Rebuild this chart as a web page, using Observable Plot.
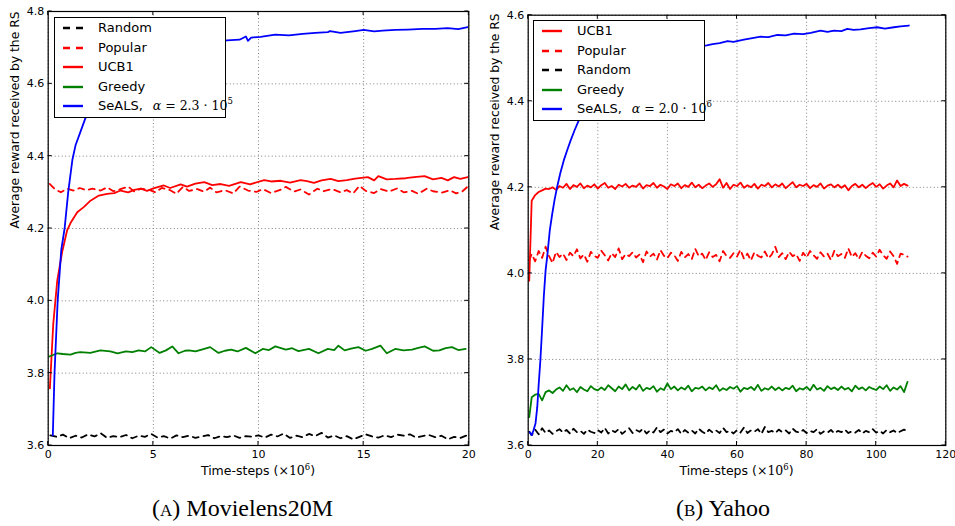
<!DOCTYPE html>
<html><head><meta charset="utf-8">
<script src="https://cdn.jsdelivr.net/npm/d3@7"></script>
<script src="https://cdn.jsdelivr.net/npm/@observablehq/plot@0.6"></script>
<style>
body{margin:0;background:#fff;}
#wrap{position:relative;width:955px;height:526px;overflow:hidden;font-family:"DejaVu Sans";background:#fff;}
.panel{position:absolute;top:0;}
.legend{position:absolute;background:#fff;border:1px solid #000;box-sizing:border-box;width:172px;height:101px;}
.row{position:absolute;left:0;height:18px;line-height:18px;font-size:13px;white-space:nowrap;color:#000;}
.row svg{position:absolute;left:8px;top:0;}
.row span.t{position:absolute;left:43px;top:0;}
.math{font-family:"DejaVu Serif";font-size:12.5px;}
.math i{font-family:"DejaVu Serif";}
.math sup{font-size:8.5px;vertical-align:0;position:relative;top:-6px;}
.xlab{position:absolute;width:400px;text-align:center;font-size:12.5px;line-height:14px;color:#000;}
.xlab .m{font-family:"DejaVu Serif";}
.xlab sup{font-size:8.5px;vertical-align:0;position:relative;top:-5px;}
.cap{position:absolute;text-align:center;font-family:"Liberation Serif";font-size:24px;line-height:24px;color:#000;}
</style></head>
<body><div id="wrap"></div>
<script>
// ---------------- Data: Movielens20M (left) ----------------
const mlXTicks = [0, 5, 10, 15, 20];
const mlYTicks = [3.6, 3.8, 4.0, 4.2, 4.4, 4.6, 4.8];

const mlSealsT = [0.22,0.30,0.45,0.62,0.78, 0.95,1.15,1.30,1.55,1.80, 2.2,3,4,5,6, 7,8,8.5,9.1,9.4, 9.5,9.65,10.1,10.8,11.45, 12.1,12.7,13.3,13.4,13.9, 14.6,15.0,15.5,15.9,16.5, 17.1,17.8,18.4,19.0,19.5, 19.95];
const mlSealsV = [3.628,3.80,4.00,4.14,4.20, 4.30,4.39,4.43,4.47,4.51, 4.56,4.63,4.67,4.69,4.70, 4.71,4.715,4.72,4.722,4.731, 4.719,4.728,4.730,4.736,4.734, 4.738,4.741,4.743,4.746,4.741, 4.746,4.749,4.745,4.747,4.749, 4.750,4.752,4.752,4.754,4.751, 4.757];

const mlUcbT = [0.08,0.24,0.43,0.66,0.90, 1.06,1.38,1.69,2.01,2.41, 2.8,3.14,3.44,3.8,4.1, 4.4,4.7,5.0,5.5,5.8, 6.3,6.6,7.0,7.42,7.8, 8.2,8.6,9.16,9.6,10.27, 10.6,11.06,11.5,12.0,12.3, 12.64,13.0,13.43,13.8,14.2, 14.6,15.2,15.5,15.7,16.1, 16.5,17.0,17.4,17.9,18.3, 18.7,19.0,19.3,19.6,19.95];
const mlUcbV = [3.758,3.936,4.056,4.134,4.195, 4.215,4.245,4.259,4.277,4.291, 4.296,4.298,4.305,4.300,4.307, 4.310,4.304,4.311,4.319,4.312, 4.322,4.316,4.324,4.328,4.320, 4.323,4.318,4.328,4.322,4.334, 4.330,4.332,4.327,4.334,4.331, 4.326,4.333,4.337,4.331,4.334, 4.338,4.342,4.333,4.345,4.336, 4.337,4.339,4.342,4.345,4.336, 4.340,4.333,4.342,4.337,4.342];

const mlPopT = [0.08,0.3,0.6,0.9,1.2, 1.5,1.8,2.1,2.5,2.8, 3.1,3.4,3.8,4.1,4.4, 4.8,5.1,5.4,5.8,6.1, 6.4,6.7,7.1,7.4,7.7, 8.0,8.4,8.8,9.1,9.5, 9.9,10.2,10.6,11.0,11.3, 11.7,12.0,12.4,12.8,13.1, 13.5,13.9,14.2,14.5,14.8, 15.1,15.5,15.8,16.2,16.6, 16.9,17.3,17.6,18.0,18.3, 18.7,19.1,19.4,19.7,19.95];
const mlPopV = [4.323,4.310,4.300,4.310,4.305, 4.312,4.306,4.310,4.305,4.314, 4.303,4.308,4.316,4.302,4.310, 4.307,4.300,4.312,4.306,4.296, 4.315,4.304,4.309,4.302,4.313, 4.300,4.306,4.297,4.316,4.305, 4.301,4.309,4.298,4.306,4.315, 4.302,4.308,4.294,4.310,4.303, 4.309,4.300,4.306,4.297,4.318, 4.304,4.298,4.309,4.302,4.311, 4.300,4.304,4.296,4.310,4.303, 4.299,4.306,4.297,4.303,4.316];

const mlGreedyT = [0.05,0.44,0.7,1.06,1.3, 1.53,2.0,2.48,2.95,3.3, 3.7,4.0,4.3,4.6,4.9, 5.3,5.6,5.9,6.2,6.5, 6.7,7.0,7.3,7.7,8.1, 8.4,8.7,9.0,9.4,9.85, 10.2,10.5,10.8,11.3,11.6, 11.9,12.4,12.85,13.3,13.6, 13.8,14.1,14.4,14.75,15.1, 15.4,15.8,16.1,16.5,16.9, 17.3,17.6,17.9,18.3,18.6, 18.9,19.2,19.5,19.85];
const mlGreedyV = [3.846,3.855,3.853,3.851,3.856, 3.858,3.856,3.863,3.860,3.855, 3.860,3.858,3.863,3.860,3.872, 3.856,3.863,3.874,3.855,3.862, 3.863,3.860,3.865,3.872,3.856, 3.862,3.865,3.860,3.870,3.855, 3.867,3.864,3.874,3.865,3.869, 3.861,3.867,3.855,3.867,3.864, 3.876,3.863,3.868,3.872,3.862, 3.867,3.876,3.855,3.867,3.863, 3.865,3.870,3.874,3.862,3.863, 3.869,3.872,3.864,3.867];

const mlRandT = [0.1,0.4,0.7,1.0,1.3, 1.6,1.9,2.2,2.5,2.8, 3.1,3.4,3.7,4.0,4.3, 4.6,4.9,5.2,5.5,5.8, 6.1,6.4,6.7,7.0,7.3, 7.6,7.9,8.2,8.5,8.8, 9.1,9.4,9.7,10.0,10.3, 10.6,10.9,11.2,11.5,11.8, 12.1,12.4,12.7,13.0,13.3, 13.6,13.9,14.2,14.5,14.8, 15.1,15.4,15.7,16.0,16.3, 16.6,16.9,17.2,17.5,17.8, 18.1,18.4,18.7,19.0,19.3, 19.6,19.95];
const mlRandV = [3.628,3.624,3.630,3.620,3.627, 3.622,3.631,3.625,3.634,3.621, 3.626,3.623,3.629,3.620,3.627, 3.624,3.632,3.622,3.626,3.619, 3.628,3.623,3.627,3.621,3.625, 3.629,3.620,3.626,3.623,3.628, 3.621,3.626,3.624,3.628,3.622, 3.630,3.625,3.633,3.621,3.627, 3.623,3.632,3.626,3.635,3.622, 3.628,3.620,3.626,3.617,3.624, 3.631,3.625,3.622,3.628,3.623, 3.630,3.627,3.631,3.622,3.626, 3.629,3.623,3.627,3.617,3.624, 3.621,3.629];

// ---------------- Data: Yahoo (right) ----------------
const yhXTicks = [0, 20, 40, 60, 80, 100, 120];
const yhYTicks = [3.6, 3.8, 4.0, 4.2, 4.4, 4.6];

const yhT = [0.3,1,2,3,4,5,6,7,8,9,
 10,11,12,13,14,15,16,17,18,19,
 20,21,22,23,24,25,26,27,28,29,
 30,31,32,33,34,35,36,37,38,39,
 40,41,42,43,44,45,46,47,48,49,
 50,51,52,53,54,55,56,57,58,59,
 60,61,62,63,64,65,66,67,68,69,
 70,71,72,73,74,75,76,77,78,79,
 80,81,82,83,84,85,86,87,88,89,
 90,91,92,93,94,95,96,97,98,99,
 100,101,102,103,104,105,106,107,108,109];

const yhUcbV = [3.983,4.169,4.182,4.189,4.193,4.197,4.196,4.200,4.194,4.203,
 4.199,4.208,4.196,4.205,4.201,4.209,4.198,4.204,4.200,4.207,
 4.197,4.205,4.210,4.199,4.203,4.196,4.206,4.202,4.208,4.199,
 4.204,4.201,4.209,4.197,4.205,4.203,4.210,4.199,4.206,4.202,
 4.196,4.207,4.203,4.209,4.198,4.205,4.201,4.211,4.200,4.206,
 4.198,4.204,4.209,4.201,4.207,4.219,4.199,4.210,4.196,4.206,
 4.203,4.211,4.199,4.205,4.200,4.208,4.197,4.206,4.203,4.210,
 4.200,4.207,4.202,4.209,4.198,4.205,4.212,4.200,4.206,4.203,
 4.208,4.198,4.205,4.201,4.209,4.197,4.204,4.207,4.200,4.206,
 4.199,4.205,4.193,4.203,4.208,4.200,4.206,4.198,4.205,4.210,
 4.201,4.207,4.197,4.204,4.209,4.200,4.216,4.203,4.208,4.204];

const yhPopV = [4.030,4.045,4.028,4.052,4.036,4.062,4.040,4.024,4.050,4.038,
 4.046,4.031,4.048,4.040,4.056,4.035,4.044,4.027,4.050,4.041,
 4.036,4.053,4.042,4.030,4.047,4.038,4.058,4.033,4.045,4.040,
 4.049,4.037,4.044,4.026,4.051,4.039,4.046,4.032,4.054,4.041,
 4.035,4.048,4.042,4.029,4.050,4.037,4.045,4.033,4.057,4.040,
 4.046,4.031,4.049,4.038,4.043,4.028,4.052,4.040,4.036,4.047,
 4.039,4.055,4.034,4.046,4.030,4.049,4.041,4.037,4.051,4.035,
 4.044,4.062,4.038,4.047,4.033,4.050,4.040,4.045,4.029,4.048,
 4.037,4.052,4.042,4.034,4.049,4.039,4.046,4.031,4.053,4.040,
 4.045,4.036,4.058,4.038,4.047,4.033,4.050,4.041,4.035,4.048,
 4.039,4.055,4.042,4.034,4.051,4.040,4.022,4.046,4.043,4.039];

const yhGreedyV = [3.666,3.712,3.718,3.720,3.705,3.724,3.728,3.722,3.730,3.735,
 3.727,3.740,3.729,3.733,3.724,3.736,3.730,3.726,3.738,3.731,
 3.728,3.735,3.729,3.740,3.733,3.726,3.737,3.731,3.742,3.728,
 3.736,3.730,3.741,3.727,3.734,3.731,3.738,3.725,3.733,3.729,
 3.744,3.731,3.737,3.728,3.735,3.730,3.739,3.726,3.734,3.732,
 3.737,3.728,3.735,3.731,3.740,3.727,3.733,3.729,3.736,3.732,
 3.738,3.725,3.734,3.731,3.736,3.729,3.741,3.727,3.733,3.730,
 3.737,3.729,3.735,3.728,3.734,3.731,3.739,3.726,3.733,3.730,
 3.736,3.728,3.741,3.730,3.734,3.727,3.738,3.731,3.735,3.729,
 3.737,3.730,3.734,3.726,3.739,3.731,3.735,3.728,3.736,3.732,
 3.729,3.737,3.731,3.740,3.727,3.735,3.730,3.738,3.724,3.748];

const yhRandV = [3.632,3.624,3.637,3.626,3.640,3.629,3.635,3.627,3.633,3.638,
 3.630,3.636,3.628,3.639,3.631,3.634,3.627,3.637,3.632,3.629,
 3.636,3.630,3.641,3.628,3.635,3.631,3.638,3.627,3.634,3.640,
 3.629,3.636,3.632,3.639,3.628,3.635,3.630,3.642,3.631,3.637,
 3.628,3.634,3.631,3.638,3.627,3.636,3.630,3.635,3.628,3.639,
 3.632,3.627,3.637,3.630,3.635,3.629,3.641,3.631,3.634,3.628,
 3.636,3.630,3.642,3.629,3.635,3.632,3.638,3.627,3.643,3.631,
 3.634,3.629,3.637,3.631,3.635,3.628,3.639,3.632,3.630,3.636,
 3.629,3.634,3.631,3.638,3.627,3.633,3.630,3.636,3.628,3.634,
 3.631,3.637,3.629,3.633,3.630,3.636,3.628,3.634,3.631,3.638,
 3.630,3.634,3.628,3.636,3.631,3.635,3.629,3.633,3.637,3.632];

const yhSealsT = [0.46,1.0,1.5,2.1,2.6, 3.0,3.5,4.0,4.5,5.0, 5.5,6.2,6.9,7.6,8.3, 9.2,10.2,11.2,12.2,13.3, 14.5,16,18,20,23, 26,30,35,40,45, 49,51.3,53,55,57.3, 59,62,64,66.8,69, 71.6,74,76.4,79,81.2, 84,86,87.9,90,91.7, 93.5,95.5,98,100.3,102.5, 105.1,107,109.4];
const yhSealsV = [3.631,3.624,3.635,3.651,3.689, 3.740,3.798,3.871,3.948,4.007, 4.042,4.100,4.138,4.172,4.200, 4.232,4.262,4.286,4.309,4.332, 4.355,4.380,4.410,4.430,4.455, 4.475,4.490,4.505,4.515,4.522, 4.527,4.530,4.533,4.535,4.540, 4.538,4.543,4.546,4.550,4.549, 4.554,4.553,4.557,4.556,4.559, 4.564,4.561,4.564,4.563,4.568, 4.566,4.567,4.570,4.572,4.569, 4.572,4.574,4.576];

// ---------------- Text ----------------
const yLabel = "Average reward received by the RS";
const mlLegend = ["Random", "Popular", "UCB1", "Greedy", "SeALS,"];
const yhLegend = ["UCB1", "Popular", "Random", "Greedy", "SeALS,"];
const mlAlpha = ["2.3", "5"];
const yhAlpha = ["2.0", "6"];
const captions = ["Movielens20M", "Yahoo"];

// ---------------- Build ----------------
const zip = (T, V) => T.slice(0, Math.min(T.length, V.length)).map((t, i) => ({t, v: V[i]}));
const DASH = "6,5";
const styles = {
  Random: {stroke: "#000000", dash: DASH},
  Popular: {stroke: "#ff0000", dash: DASH},
  UCB1: {stroke: "#ff0000", dash: null},
  Greedy: {stroke: "#008000", dash: null},
  "SeALS,": {stroke: "#0000ff", dash: null}
};

function innerTicks(xTicks, yTicks, len) {
  return (index, scales, values, dim) => {
    const {x, y} = scales;
    const top = dim.marginTop, bottom = dim.height - dim.marginBottom;
    const left = dim.marginLeft, right = dim.width - dim.marginRight;
    const g = d3.create("svg:g").attr("stroke", "black").attr("stroke-width", 1);
    for (const t of xTicks) {
      const px = x(t);
      g.append("line").attr("x1", px).attr("x2", px).attr("y1", bottom).attr("y2", bottom - len);
      g.append("line").attr("x1", px).attr("x2", px).attr("y1", top).attr("y2", top + len);
    }
    for (const t of yTicks) {
      const py = y(t);
      g.append("line").attr("y1", py).attr("y2", py).attr("x1", left).attr("x2", left + len);
      g.append("line").attr("y1", py).attr("y2", py).attr("x1", right).attr("x2", right - len);
    }
    return g.node();
  };
}

function panel({series, xTicks, yTicks, xDomain, yDomain, width, mTop, mRight}) {
  const marks = [
    Plot.gridX(xTicks, {stroke: "#808080", strokeOpacity: 1, strokeDasharray: "1,2.5"}),
    Plot.gridY(yTicks, {stroke: "#808080", strokeOpacity: 1, strokeDasharray: "1,2.5"}),
  ];
  for (const s of series) {
    marks.push(Plot.line(s.data, {x: "t", y: "v", stroke: s.stroke, strokeWidth: 1.8,
      strokeDasharray: s.dash || undefined, clip: true}));
  }
  marks.push(
    Plot.frame({stroke: "black", strokeWidth: 1.2}),
    innerTicks(xTicks, yTicks, 4),
    Plot.axisX(xTicks, {tickSize: 0, tickPadding: 5, tickFormat: d3.format("d"), label: null, fontSize: 11}),
    Plot.axisY(yTicks, {tickSize: 0, tickPadding: 4, tickFormat: d3.format(".1f"), label: null, fontSize: 11}),
    Plot.text([yLabel], {text: d => d, frameAnchor: "left", dx: -32.7, rotate: -90, fontSize: 12.3, fill: "black"})
  );
  return Plot.plot({
    width, height: 480,
    marginLeft: 47.7, marginRight: mRight, marginTop: mTop, marginBottom: 35,
    x: {domain: xDomain}, y: {domain: yDomain},
    style: {fontFamily: "DejaVu Sans", fontSize: "11px", background: "transparent", color: "black"},
    marks
  });
}

const wrap = d3.select("#wrap");

const mlSeries = [
  {name: "Random", data: zip(mlRandT, mlRandV)},
  {name: "Popular", data: zip(mlPopT, mlPopV)},
  {name: "UCB1", data: zip(mlUcbT, mlUcbV)},
  {name: "Greedy", data: zip(mlGreedyT, mlGreedyV)},
  {name: "SeALS,", data: zip(mlSealsT, mlSealsV)}
].map(s => ({...s, ...styles[s.name]}));

const yhSeries = [
  {name: "UCB1", data: zip(yhT, yhUcbV)},
  {name: "Popular", data: zip(yhT, yhPopV)},
  {name: "Random", data: zip(yhT, yhRandV)},
  {name: "Greedy", data: zip(yhT, yhGreedyV)},
  {name: "SeALS,", data: zip(yhSealsT, yhSealsV)}
].map(s => ({...s, ...styles[s.name]}));

const left = panel({series: mlSeries, xTicks: mlXTicks, yTicks: mlYTicks, xDomain: [0, 20], yDomain: [3.6, 4.8], width: 480, mTop: 11, mRight: 11.7});
const right = panel({series: yhSeries, xTicks: yhXTicks, yTicks: yhYTicks, xDomain: [0, 120], yDomain: [3.6, 4.6], width: 475, mTop: 14.7, mRight: 9.7});

wrap.append("div").attr("class", "panel").style("left", "0px").node().appendChild(left);
wrap.append("div").attr("class", "panel").style("left", "480px").node().appendChild(right);

function legend(x, y, names, alpha) {
  const box = wrap.append("div").attr("class", "legend").style("left", x + "px").style("top", y + "px");
  const rowCenters = [11, 30.5, 50, 69.5, 89];
  names.forEach((n, i) => {
    const st = styles[n];
    const row = box.append("div").attr("class", "row").style("top", (rowCenters[i] - 9 - 1) + "px").style("width", "170px");
    const svg = row.append("svg").attr("width", 22).attr("height", 18);
    svg.append("line").attr("x1", 0).attr("x2", 20).attr("y1", 9).attr("y2", 9)
      .attr("stroke", st.stroke).attr("stroke-width", 2.4)
      .attr("stroke-dasharray", st.dash ? "7,6" : null);
    const t = row.append("span").attr("class", "t").text(n);
    if (n === "SeALS,") {
      const m = t.append("span").attr("class", "math").style("margin-left", "10px");
      m.append("i").text("α");
      m.append("span").text(" = " + alpha[0] + " · 10");
      m.append("sup").text(alpha[1]);
    }
  });
}
legend(54, 17, mlLegend, mlAlpha);
legend(533, 20, yhLegend, yhAlpha);

function xlab(cx) {
  const d = wrap.append("div").attr("class", "xlab").style("left", (cx - 200) + "px").style("top", "464px");
  d.append("span").text("Time-steps (");
  const m = d.append("span").attr("class", "m");
  m.append("span").text("×10");
  m.append("sup").text("6");
  d.append("span").text(")");
}
xlab(258);
xlab(736.5);

function caption(x, w, letter, text) {
  const d = wrap.append("div").attr("class", "cap").style("left", x + "px").style("width", w + "px").style("top", "496px");
  d.append("span").text("(");
  d.append("span").style("font-variant", "all-small-caps").text(letter);
  d.append("span").text(") " + text);
}
caption(0, 485, "A", captions[0]);
caption(480, 486, "B", captions[1]);
</script>
</body></html>
